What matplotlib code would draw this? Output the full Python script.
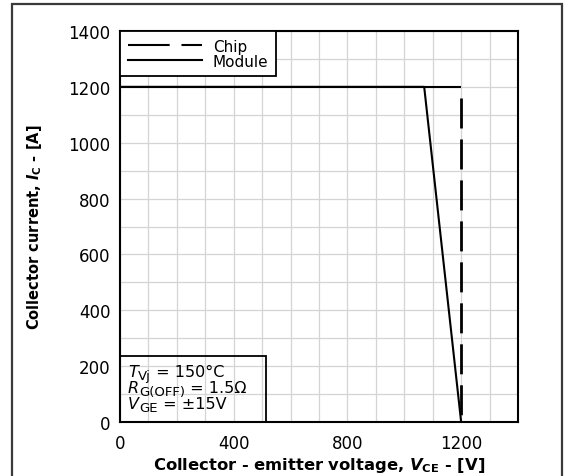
import matplotlib
matplotlib.use("Agg")
import matplotlib.pyplot as plt
from matplotlib.patches import Rectangle
from matplotlib.ticker import MultipleLocator

# RBSOA data
chip_v = [0, 1200, 1200]
chip_i = [1200, 1200, 0]
module_v = [0, 1070, 1200]
module_i = [1200, 1200, 0]

x_ticks = [0, 400, 800, 1200]
y_ticks = [0, 200, 400, 600, 800, 1000, 1200, 1400]

# test conditions: (symbol, subscript, rest)
conditions = [("T", "Vj", " = 150°C"),
              ("R", "G(OFF)", " = 1.5Ω"),
              ("V", "GE", " = ±15V")]

plt.rcParams["font.family"] = "DejaVu Sans"
plt.rcParams["lines.scale_dashes"] = False

fig = plt.figure(figsize=(5.68, 4.77), dpi=100)
ax = fig.add_axes([120/568, 54/477, 398/568, 391/477])

# outer frame round the figure
fig.patches.append(Rectangle((12/568, -0.1), 550/568, 1.1 - 4.5/477,
                             transform=fig.transFigure, fill=False,
                             lw=1.6, ec="#3a3a3a", clip_on=False))

# chip: top is solid, vertical edge is dashed
ax.plot(chip_v[:2], chip_i[:2], color="black", lw=1.5, solid_capstyle="butt")
chip_line, = ax.plot(chip_v[1:], chip_i[1:], color="black", lw=2,
                     linestyle=(21.6, (21.6, 7.9)), label="Chip")
module_line, = ax.plot(module_v, module_i, color="black", lw=1.5, label="Module")

ax.set_xlim(0, 1400)
ax.set_ylim(0, 1400)
ax.set_xticks(x_ticks)
ax.set_yticks(y_ticks)
ax.xaxis.set_minor_locator(MultipleLocator(100))
ax.yaxis.set_minor_locator(MultipleLocator(100))
ax.grid(which="both", color="#d4d4d4", lw=0.9)
ax.set_axisbelow(True)
ax.tick_params(which="both", length=0, labelsize=12, pad=7)
ax.tick_params(axis="x", pad=9)
for s in ax.spines.values():
    s.set_linewidth(1.5)

ax.set_xlabel(r"Collector - emitter voltage, $\mathbfit{V}_{\mathbf{CE}}$ - [V]",
              fontsize=11.8, fontweight="bold", labelpad=2)
ax.set_ylabel(r"Collector current, $\mathbfit{I}_{\mathbf{C}}$ - [A]",
              fontsize=10.5, fontweight="bold", labelpad=17)

leg = ax.legend(handles=[chip_line, module_line], loc="upper left",
                fontsize=11, handlelength=4.85, handletextpad=0.72,
                borderaxespad=0, fancybox=False, edgecolor="black",
                framealpha=1, labelspacing=0.0, borderpad=0.5)
leg.get_frame().set_linewidth(1.3)
leg.get_lines()[0].set_linestyle((0, (30, 8.5)))
leg.get_lines()[0].set_linewidth(1.5)

# test conditions box
ax.add_patch(Rectangle((0, 0), 146/398, 66/391, transform=ax.transAxes,
                       fill=False, lw=1.3, ec="black", zorder=5))
for k, (sym, sub, rest) in enumerate(conditions):
    t = ax.text(8/398, (50 - 16*k)/391, sym, transform=ax.transAxes,
                fontsize=11.5, style="italic", va="center", ha="left", zorder=6)
    t = ax.annotate(sub, xy=(1, 0), xycoords=t, xytext=(0, -2),
                    textcoords="offset points", fontsize=9.5, va="bottom",
                    zorder=6)
    ax.annotate(rest, xy=(1, 0), xycoords=t, xytext=(0, 2),
                textcoords="offset points", fontsize=11.5, va="bottom", zorder=6)

fig.savefig("out.png", dpi=100)
